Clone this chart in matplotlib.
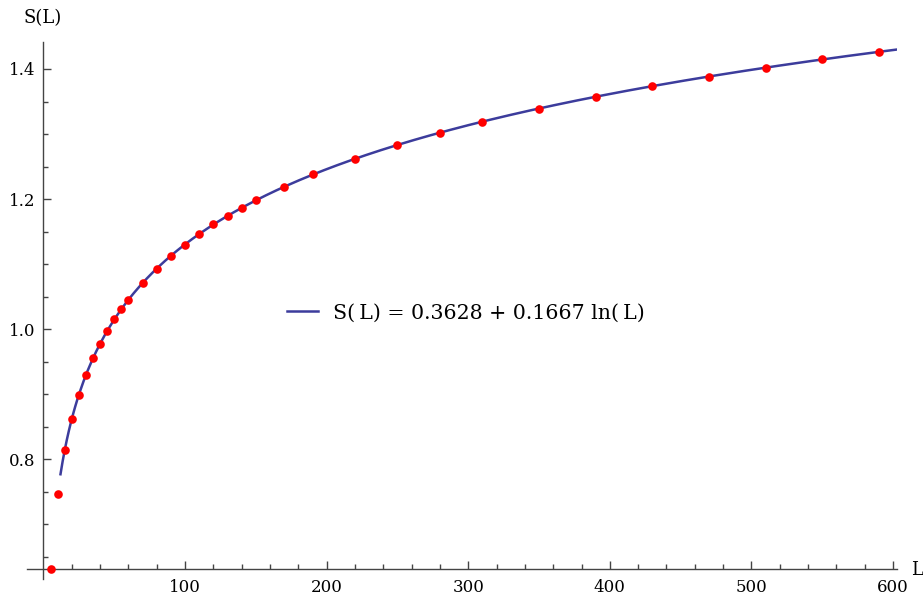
import numpy as np
import matplotlib
matplotlib.use("Agg")
import matplotlib.pyplot as plt

# measured entropy S(L) against block length L
L_data = [5, 10, 15, 20, 25, 30, 35, 40, 45, 50, 55, 60, 70, 80, 90, 100,
          110, 120, 130, 140, 150, 170, 190, 220, 250, 280, 310, 350, 390,
          430, 470, 510, 550, 590]
S_data = [0.631, 0.747, 0.814, 0.862, 0.899, 0.930, 0.956, 0.978, 0.997,
          1.015, 1.031, 1.045, 1.071, 1.093, 1.113, 1.130, 1.146, 1.161,
          1.174, 1.187, 1.198, 1.219, 1.238, 1.262, 1.283, 1.302, 1.319,
          1.339, 1.357, 1.374, 1.388, 1.402, 1.415, 1.426]

# log fit coefficients
a_fit = 0.3628
b_fit = 0.1667
L_fit_min, L_fit_max = 12, 602

x_major = [100, 200, 300, 400, 500, 600]
y_major = [0.8, 1.0, 1.2, 1.4]
y_labels = ["0.8", "1.0", "1.2", "1.4"]

plt.rcParams['font.family'] = ['DejaVu Serif']

fig = plt.figure(figsize=(9.23, 5.98), dpi=100)
W, H = 923, 598
ax = fig.add_axes([27 / W, 1 - 579 / H, (897 - 27) / W, (579 - 42) / H])

Lf = np.linspace(L_fit_min, L_fit_max, 400)
line, = ax.plot(Lf, a_fit + b_fit * np.log(Lf), color='#3c3c9c', lw=1.8,
                zorder=2)
ax.plot(L_data, S_data, 'o', color='#ff0000', ms=6.2, mec='none', zorder=3,
        clip_on=False)

ax.set_xlim(-11.65, 602.8)
ax.set_ylim(0.616, 1.4415)

for s in ['top', 'right']:
    ax.spines[s].set_visible(False)
ax.spines['left'].set_position(('data', 0))
ax.spines['bottom'].set_position(('data', 0.6314))
for s in ['left', 'bottom']:
    ax.spines[s].set_color('#444444')
    ax.spines[s].set_linewidth(1.0)

ax.set_xticks(x_major)
ax.set_xticks(np.arange(20, 601, 20), minor=True)
ax.set_yticks(y_major)
ax.set_yticklabels(y_labels)
ax.set_yticks(np.arange(0.65, 1.44, 0.05), minor=True)
ax.tick_params(which='both', direction='in', color='#444444', width=1.0,
               labelsize=12)
ax.tick_params(which='major', length=5.5)
ax.tick_params(which='minor', length=3.5)
ax.tick_params(axis='x', which='major', pad=7)
ax.tick_params(axis='y', which='major', pad=6)

fig.text(43 / W, 1 - 18 / H, "S(L)", ha='center', va='center', fontsize=13)
fig.text(911 / W, 1 - 570 / H, "L", ha='left', va='center', fontsize=13)

ax.legend([line], ["S(\u2009L) = 0.3628 + 0.1667 ln(\u2009L)"],
          loc='center left', bbox_to_anchor=(287 / W, 1 - 313 / H),
          bbox_transform=fig.transFigure, frameon=False, fontsize=14.8,
          borderpad=0, borderaxespad=0, handlelength=1.5, handletextpad=0.73)

fig.savefig("out.png", dpi=100)
